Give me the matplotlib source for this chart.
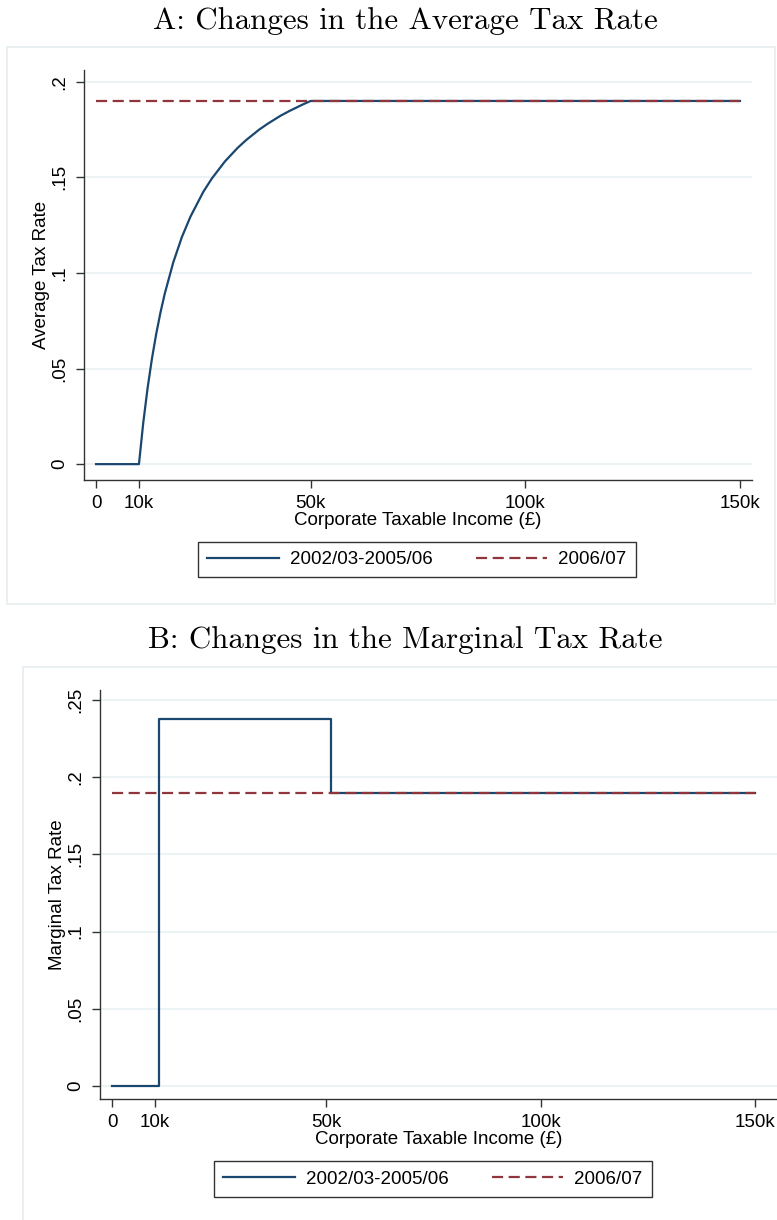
import matplotlib
matplotlib.use("Agg")
import matplotlib.pyplot as plt
from matplotlib.patches import Rectangle
from matplotlib.lines import Line2D

# ---------------- data ----------------
# Panel A: average tax rate
avg_income = [0, 10000, 11000, 12000, 13000, 14000, 15000, 16000, 18000, 20000, 22000,
              25000, 27000, 30000, 33000, 35000, 38000, 40000, 43000, 45000, 48000,
              50000, 150000]
avg_rate_old = [0, 0, 0.0216, 0.0396, 0.0548, 0.0679, 0.0792, 0.0891, 0.1056, 0.1188,
                0.1295, 0.1425, 0.1495, 0.1583, 0.1655, 0.1696, 0.1750, 0.1781,
                0.1823, 0.1847, 0.1880, 0.1900, 0.1900]
new_income = [0, 150000]
new_rate = [0.19, 0.19]

# Panel B: marginal tax rate
marg_income = [0, 11000, 51000, 150000]
marg_rate_old = [0, 0.2375, 0.19, 0.19]

x_ticks = [0, 10000, 50000, 100000, 150000]
x_ticklabels = ["0", "10k", "50k", "100k", "150k"]
yA_ticks = [0, 0.05, 0.10, 0.15, 0.20]
yA_ticklabels = ["0", ".05", ".1", ".15", ".2"]
yB_ticks = [0, 0.05, 0.10, 0.15, 0.20, 0.25]
yB_ticklabels = ["0", ".05", ".1", ".15", ".2", ".25"]
legend_labels = ["2002/03-2005/06", "2006/07"]

# ---------------- style ----------------
W, H = 777, 1220
NAVY = "#1a476f"
MAROON = "#90353b"
GRID = "#eaf2f3"
FRAME = "#e6eef0"
SANS = ["Liberation Sans", "DejaVu Sans"]
plt.rcParams["font.family"] = SANS
FS = 13.5

fig = plt.figure(figsize=(W / 100, H / 100), dpi=100)


def fx(px):
    return px / W


def fy(py):
    return 1 - py / H


def panel(ax_box, xlim, ylim, yticks, yticklabels, ylabel):
    l, t, r, b = ax_box
    ax = fig.add_axes([fx(l), fy(b), fx(r) - fx(l), fy(t) - fy(b)])
    ax.set_xlim(*xlim)
    ax.set_ylim(*ylim)
    for s in ["top", "right"]:
        ax.spines[s].set_visible(False)
    for s in ["left", "bottom"]:
        ax.spines[s].set_color("#333333")
        ax.spines[s].set_linewidth(1.0)
    ax.set_xticks(x_ticks)
    ax.set_xticklabels(x_ticklabels)
    ax.set_yticks(yticks)
    ax.set_yticklabels(yticklabels, rotation=90, va="center")
    ax.tick_params(axis="both", direction="out", length=6, width=1.0,
                   color="#333333", labelsize=FS, pad=5)
    ax.grid(axis="y", color=GRID, linewidth=1.3)
    ax.set_axisbelow(True)
    ax.set_xlabel("Corporate Taxable Income (£)", fontsize=FS, labelpad=0)
    ax.set_ylabel(ylabel, fontsize=FS, labelpad=1)
    return ax


def legend(ax, x0, y0, x1, y1):
    handles = [Line2D([], [], color=NAVY, lw=1.6),
               Line2D([], [], color=MAROON, lw=1.6, dashes=[5, 2.5])]
    leg = fig.legend(handles, legend_labels, ncol=2,
                     loc="center", bbox_to_anchor=(fx((x0 + x1) / 2), fy((y0 + y1) / 2)),
                     frameon=True, fancybox=False, edgecolor="black",
                     fontsize=FS, handlelength=3.8, columnspacing=2.3,
                     handletextpad=0.6, borderpad=0.5, borderaxespad=0)
    leg.get_frame().set_linewidth(1.0)
    return leg


# ---------------- Panel A ----------------
fig.text(fx(405), fy(21), "A: Changes in the Average Tax Rate", family="cmr10",
         fontsize=22.3, ha="center", va="center")
fig.patches.append(Rectangle((fx(7), fy(604)), fx(775) - fx(7), fy(47) - fy(604),
                             transform=fig.transFigure, fill=False,
                             edgecolor=FRAME, lw=1.2))
axA = panel((84, 70, 752, 480), (-2800, 152800), (-0.0083, 0.2062),
            yA_ticks, yA_ticklabels, "Average Tax Rate")
axA.plot(avg_income, avg_rate_old, color=NAVY, lw=1.6, solid_joinstyle="round")
axA.plot(new_income, new_rate, color=MAROON, lw=1.6, dashes=[5, 2.5])
legend(axA, 198, 541, 636, 578)

# ---------------- Panel B ----------------
fig.text(fx(405), fy(640), "B: Changes in the Marginal Tax Rate", family="cmr10",
         fontsize=22.3, ha="center", va="center")
fig.patches.append(Rectangle((fx(23), fy(1240)), fx(800) - fx(23), fy(667) - fy(1240),
                             transform=fig.transFigure, fill=False,
                             edgecolor=FRAME, lw=1.2))
axB = panel((100, 690, 777, 1099), (-2800, 155100), (-0.0084, 0.2565),
            yB_ticks, yB_ticklabels, "Marginal Tax Rate")
axB.step(marg_income, marg_rate_old, where="post", color=NAVY, lw=1.6)
axB.plot(new_income, new_rate, color=MAROON, lw=1.6, dashes=[5, 2.5])
legend(axB, 214, 1160, 652, 1198)

fig.savefig("out.png", dpi=100)
